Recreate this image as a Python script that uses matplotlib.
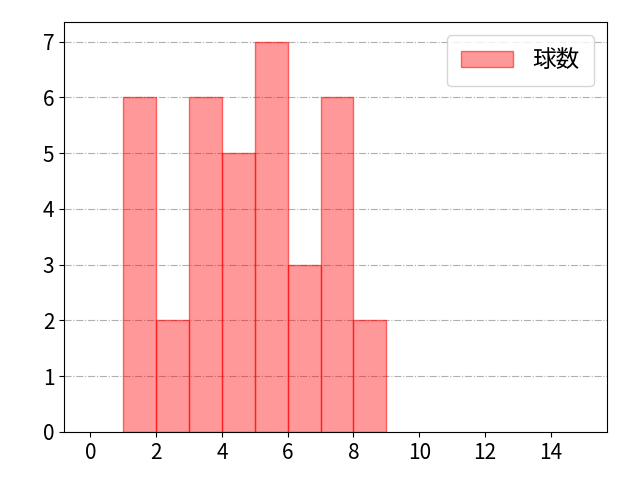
import matplotlib
matplotlib.use("Agg")
import matplotlib.pyplot as plt

plt.rcParams["font.family"] = ["Noto Sans CJK JP", "DejaVu Sans"]

# histogram bins (left edges) and counts
bin_edges = [1, 2, 3, 4, 5, 6, 7, 8, 9]
counts = [6, 2, 6, 5, 7, 3, 6, 2]
series_label = "球数"
x_ticks = [0, 2, 4, 6, 8, 10, 12, 14]


def main() -> None:
	fig, axis = plt.subplots(figsize=(6.4, 4.8), dpi=100)
	axis.hist(
		bin_edges[:-1],
		bins=bin_edges,
		weights=counts,
		facecolor=(1.0, 0.0, 0.0, 0.4),
		edgecolor=(1.0, 0.0, 0.0, 0.55),
		linewidth=1.0,
		label=series_label,
	)
	axis.set_xlim(-0.8, 15.7)
	axis.set_ylim(0, 7.35)
	axis.set_xticks(x_ticks)
	axis.set_yticks(range(0, 8))
	axis.tick_params(labelsize=15)
	axis.grid(axis="y", linestyle="-.", color="#b0b0b0", linewidth=0.8)
	axis.set_axisbelow(True)
	axis.legend(
		loc="upper right",
		fontsize=17,
		handlelength=2.2,
		borderpad=0.6,
		borderaxespad=0.55,
	)
	fig.subplots_adjust(left=0.1, right=0.948, bottom=0.1, top=0.954)
	fig.savefig("out.png", dpi=100)


if __name__ == "__main__":
	main()
